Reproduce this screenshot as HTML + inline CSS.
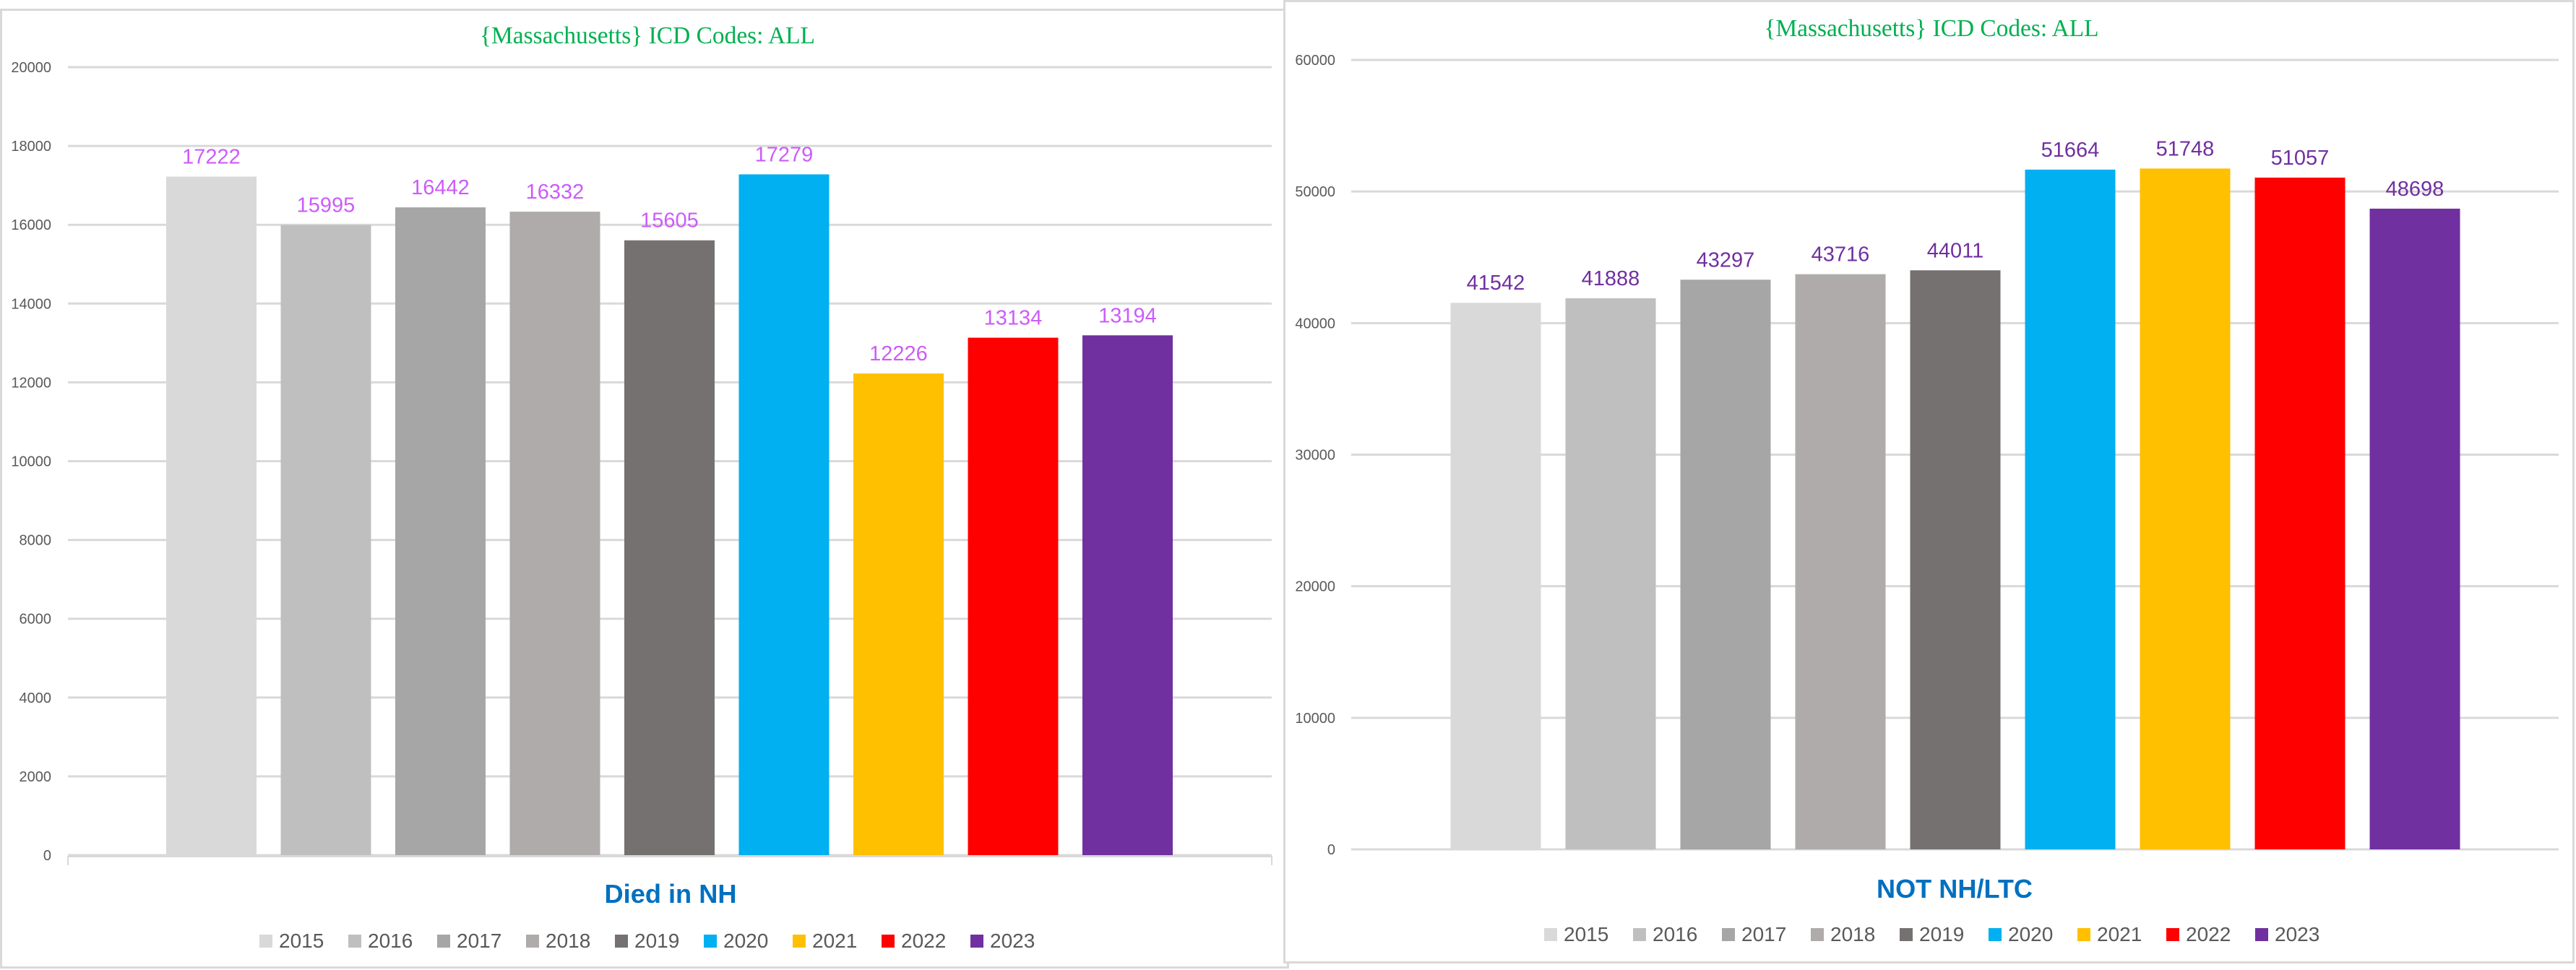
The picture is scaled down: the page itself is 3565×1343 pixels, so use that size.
<!DOCTYPE html>
<html><head><meta charset="utf-8">
<style>
html,body{margin:0;padding:0;background:#fff;}
svg{display:block;}
text{font-family:"Liberation Sans",sans-serif;}
</style></head>
<body>
<svg id="chart" width="3565" height="1343" viewBox="0 0 3565 1343" xmlns="http://www.w3.org/2000/svg">
  <rect x="0" y="0" width="3565" height="1343" fill="#fff"/>
  <g id="left">
    <rect x="1.5" y="13.5" width="1781" height="1326" fill="#fff" stroke="#D9D9D9" stroke-width="3"/>
    <polyline points="94,1198 94,1186 1760,1186 1760,1198" fill="none" stroke="#D9D9D9" stroke-width="2"/>
    <text x="896" y="60" text-anchor="middle" style="font-family:'Liberation Serif',serif" font-size="34" fill="#00B050" textLength="464" lengthAdjust="spacingAndGlyphs">{Massachusetts}  ICD Codes: ALL</text>
    <text x="928" y="1250" text-anchor="middle" font-size="36" font-weight="bold" fill="#0070C0" textLength="183" lengthAdjust="spacingAndGlyphs">Died in NH</text>
  </g>
  <g id="right">
    <rect x="1777.5" y="1.5" width="1784" height="1331" fill="#fff" stroke="#D9D9D9" stroke-width="3"/>
    <text x="2673" y="50" text-anchor="middle" style="font-family:'Liberation Serif',serif" font-size="34" fill="#00B050" textLength="463" lengthAdjust="spacingAndGlyphs">{Massachusetts}  ICD Codes: ALL</text>
    <text x="2705" y="1243" text-anchor="middle" font-size="36" font-weight="bold" fill="#0070C0" textLength="216" lengthAdjust="spacingAndGlyphs">NOT NH/LTC</text>
  </g>
</svg>
<script>
const years = ["2015","2016","2017","2018","2019","2020","2021","2022","2023"];
const colors = ["#D9D9D9","#BFBFBF","#A6A6A6","#AFABAB","#767171","#00B0F0","#FFC000","#FF0000","#7030A0"];
const diedInNH = [17222,15995,16442,16332,15605,17279,12226,13134,13194];
const notNHLTC = [41542,41888,43297,43716,44011,51664,51748,51057,48698];
const leftTicks = [0,2000,4000,6000,8000,10000,12000,14000,16000,18000,20000];
const rightTicks = [0,10000,20000,30000,40000,50000,60000];

const NS = "http://www.w3.org/2000/svg";
function mk(parent, tag, attrs, txt){
  const e = document.createElementNS(NS, tag);
  for (const k in attrs) e.setAttribute(k, attrs[k]);
  if (txt !== undefined) e.textContent = txt;
  parent.appendChild(e);
  return e;
}

function drawChart(g, cfg){
  const yScale = v => cfg.y0 - (v - 0) / cfg.max * (cfg.y0 - cfg.yTop);
  const xCenter = i => cfg.firstCenter + i * cfg.pitch;
  cfg.ticks.forEach(t => {
    const y = yScale(t);
    const l = mk(g, "line", {x1: cfg.plotL, x2: cfg.plotR, y1: y, y2: y, stroke: "#D9D9D9", "stroke-width": 3});
    
    
    const tx = mk(g, "text", {x: cfg.tickX, y: y + 7, "text-anchor": "end", "font-size": 20, fill: "#595959"}, String(t));
    
    
  });
  cfg.values.forEach((v, i) => {
    const cx = xCenter(i), top = yScale(v);
    const r = mk(g, "rect", {x: cx - cfg.bw / 2, y: top, width: cfg.bw, height: cfg.y0 - top, fill: colors[i]});
    
    
    const t = mk(g, "text", {x: cx, y: top - 18, "text-anchor": "middle", "font-size": 29, fill: cfg.labelColor}, String(v));
    
    
  });
  years.forEach((yr, i) => {
    const lx = cfg.legX + i * 123;
    const s = mk(g, "rect", {x: lx, y: cfg.legY - 18, width: 18, height: 18, fill: colors[i]});
    
    
    const t = mk(g, "text", {x: lx + 27, y: cfg.legY, "font-size": 28, fill: "#595959"}, yr);
    
    
  });
}

drawChart(document.getElementById("left"), {
  values: diedInNH, ticks: leftTicks, max: 20000, y0: 1184, yTop: 93,
  plotL: 94, plotR: 1760, tickX: 71, firstCenter: 292.5, pitch: 158.5, bw: 125,
  labelColor: "#CC5CFA", legX: 359, legY: 1312
});
drawChart(document.getElementById("right"), {
  values: notNHLTC, ticks: rightTicks, max: 60000, y0: 1176, yTop: 83,
  plotL: 1870, plotR: 3541, tickX: 1848, firstCenter: 2070, pitch: 159, bw: 125,
  labelColor: "#7030A0", legX: 2137, legY: 1303
});
</script>
</body></html>
